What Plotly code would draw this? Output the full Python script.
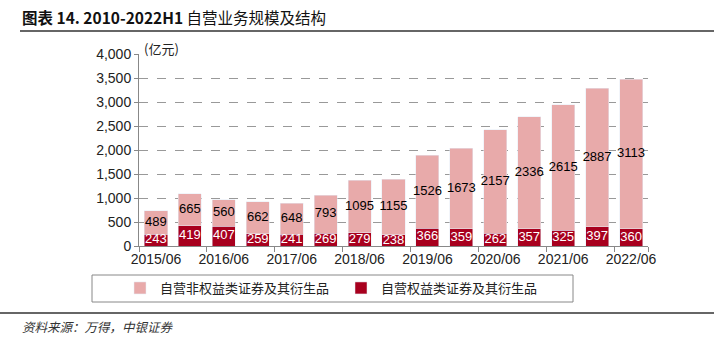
import plotly.graph_objects as go

categories = ["2015/06", "2015/12", "2016/06", "2016/12", "2017/06", "2017/12", "2018/06", "2018/12",
              "2019/06", "2019/12", "2020/06", "2020/12", "2021/06", "2021/12", "2022/06"]
equity = [243, 419, 407, 259, 241, 269, 279, 238, 366, 359, 262, 357, 325, 397, 360]
non_equity = [489, 665, 560, 662, 648, 793, 1095, 1155, 1526, 1673, 2157, 2336, 2615, 2887, 3113]
name_non_equity = "自营非权益类证券及其衍生品"
name_equity = "自营权益类证券及其衍生品"
y_ticks = [0, 500, 1000, 1500, 2000, 2500, 3000, 3500, 4000]

FONT = "Liberation Sans, Arial, Noto Sans CJK SC"
CJK = "Noto Sans CJK SC"
idx = list(range(len(categories)))

fig = go.Figure()
fig.add_trace(go.Bar(
    x=idx, y=equity, name=name_equity, marker_color="#A8001E",
    textposition="none", legendrank=2,
))
fig.add_trace(go.Bar(
    x=idx, y=non_equity, name=name_non_equity, marker_color="#E8AAAA",
    textposition="none", legendrank=1,
))
# value labels centred in each segment
fig.add_trace(go.Scatter(
    x=idx, y=[e / 2 for e in equity], mode="text", text=[str(v) for v in equity],
    textfont=dict(color="white", size=13, family=FONT), showlegend=False, hoverinfo="skip",
))
fig.add_trace(go.Scatter(
    x=idx, y=[e + n / 2 for e, n in zip(equity, non_equity)], mode="text",
    text=[str(v) for v in non_equity],
    textfont=dict(color="black", size=13, family=FONT), showlegend=False, hoverinfo="skip",
))

W, H = 714, 338
L, R, T, B = 139, 66, 54, 92
pw, ph = W - L - R, H - T - B
def px(x): return (x - L) / pw
def py(y): return (H - B - y) / ph

fig.update_layout(
    width=W, height=H, barmode="stack", bargap=0.32,
    margin=dict(l=L, r=R, t=T, b=B),
    plot_bgcolor="white", paper_bgcolor="white",
    font=dict(family=FONT, size=14, color="#222"),
    legend=dict(orientation="h", x=px(120), xanchor="left", y=py(288), yanchor="middle",
                font=dict(family=CJK, size=13, color="#222"), entrywidth=176,
                bgcolor="rgba(0,0,0,0)", itemclick=False, traceorder="normal"),
    xaxis=dict(range=[-0.5, len(categories) - 0.5], tickmode="array",
               tickvals=idx[::2], ticktext=categories[::2], ticks="",
               showline=True, linecolor="#888", linewidth=1, showgrid=False, zeroline=False,
               tickfont=dict(size=14, color="#222"),
               minor=dict(tickmode="array",
                          tickvals=[i - 0.5 for i in idx[::2]] + [len(categories) - 0.5],
                          ticks="outside", ticklen=5, tickcolor="#888", showgrid=False)),
    yaxis=dict(range=[0, 4000], tickmode="array", tickvals=y_ticks,
               ticktext=[f"{v:,}" for v in y_ticks], ticks="outside", ticklen=4, tickcolor="#888",
               showline=True, linecolor="#888", linewidth=1, zeroline=False,
               showgrid=True, gridcolor="#999", griddash="dash", gridwidth=1,
               tickfont=dict(size=14, color="#222")),
    shapes=[
        dict(type="line", xref="paper", yref="paper", x0=px(20), x1=px(714), y0=py(31), y1=py(31),
             line=dict(color="#666", width=2)),
        dict(type="line", xref="paper", yref="paper", x0=px(0), x1=px(714), y0=py(313), y1=py(313),
             line=dict(color="#666", width=2)),
        dict(type="rect", xref="paper", yref="paper", x0=px(92), x1=px(573), y0=py(302), y1=py(275),
             line=dict(color="#888", width=1)),
    ],
    annotations=[
        dict(text="<b>图表 14. 2010-2022H1</b> 自营业务规模及结构", xref="paper", yref="paper",
             x=px(20), y=py(17), xanchor="left", yanchor="middle", showarrow=False,
             font=dict(family=CJK, size=15.5, color="#111")),
        dict(text="(亿元)", xref="paper", yref="paper", x=px(142), y=py(48), xanchor="left",
             yanchor="middle", showarrow=False, font=dict(family=CJK, size=13, color="#222")),
        dict(text="<i>资料来源：万得，中银证券</i>", xref="paper", yref="paper", x=px(20), y=py(326),
             xanchor="left", yanchor="middle", showarrow=False,
             font=dict(family=CJK, size=12.5, color="#333")),
    ],
)
fig.write_html("out.html")
